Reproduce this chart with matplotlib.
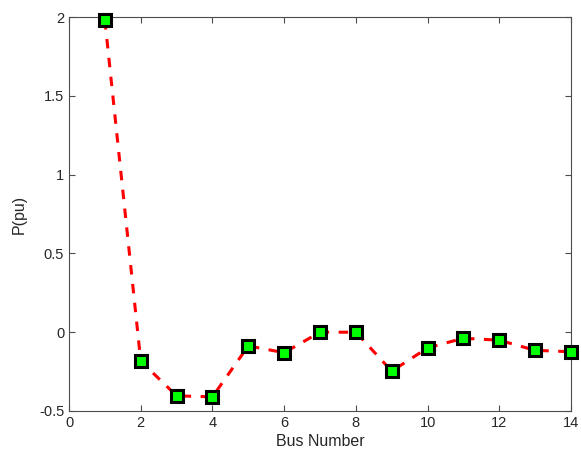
import matplotlib
matplotlib.use("Agg")
import matplotlib.pyplot as plt

bus = list(range(1, 15))
p_pu = [1.98, -0.183, -0.404, -0.41, -0.087, -0.13, 0.0, 0.0, -0.247, -0.10, -0.038, -0.051, -0.115, -0.124]

plt.rcParams['font.family'] = ['Liberation Sans', 'DejaVu Sans']
fig = plt.figure(figsize=(5.81, 4.62), dpi=100)
ax = fig.add_axes([0.1188, 0.1104, 0.864, 0.8528])
ax.plot(bus, p_pu, '--', color='red', linewidth=2.2, dashes=(3.1, 3.1),
        marker='s', markersize=8.5, markerfacecolor=(0, 1, 0), markeredgecolor='black',
        markeredgewidth=2.2, clip_on=False, zorder=3)
ax.set_xlim(0, 14)
ax.set_ylim(-0.5, 2)
ax.set_xticks(range(0, 15, 2))
ax.set_yticks([-0.5, 0, 0.5, 1, 1.5, 2])
ax.set_yticklabels(['-0.5', '0', '0.5', '1', '1.5', '2'])
ax.set_xlabel('Bus Number', fontsize=11.5, color='#262626', labelpad=3)
ax.set_ylabel('P(pu)', fontsize=11.5, color='#262626', labelpad=9)
axc = '#262626'
for s in ax.spines.values():
    s.set_color('#4d4d4d')
    s.set_linewidth(0.8)
ax.tick_params(direction='in', top=True, right=True, length=4, width=0.8,
               colors='#4d4d4d', labelcolor=axc, labelsize=10.5)
fig.savefig('out.png', dpi=100, facecolor='white')
